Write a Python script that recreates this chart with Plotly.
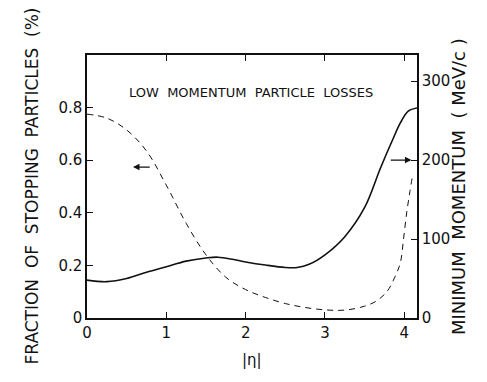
import plotly.graph_objects as go

# Fraction of stopping particles (left axis, dashed)
eta_frac = [0.0, 0.25, 0.5, 0.75, 1.0, 1.25, 1.5, 1.75, 2.0, 2.25, 2.5, 2.75, 3.0, 3.25, 3.5,
            3.65, 3.78, 3.88, 3.95, 3.99, 4.03, 4.07, 4.1]
frac = [0.775, 0.76, 0.715, 0.635, 0.505, 0.36, 0.24, 0.155, 0.108, 0.078, 0.055, 0.040, 0.031,
        0.030, 0.045, 0.065, 0.10, 0.155, 0.21, 0.30, 0.40, 0.48, 0.535]

# Minimum momentum (right axis, solid)
eta_mom = [0.0, 0.25, 0.5, 0.75, 1.0, 1.25, 1.5, 1.65, 1.85, 2.0, 2.25, 2.5, 2.65, 2.8, 3.0,
           3.25, 3.5, 3.7, 3.85, 3.95, 4.05, 4.16]
mom = [48, 46, 50, 58, 65, 72, 76, 77, 74, 71, 67, 64, 64, 68, 80, 103, 140, 190, 225, 247, 262, 266]

x_ticks = [0, 1, 2, 3, 4]
y_left_ticks = [0, 0.2, 0.4, 0.6, 0.8]
y_left_labels = ["0", "0.2", "0.4", "0.6", "0.8"]
y_right_ticks = [0, 100, 200, 300]

FONT = "DejaVu Sans"
INK = "#111111"

fig = go.Figure()
fig.add_trace(go.Scatter(x=eta_frac, y=frac, mode="lines", line_shape="spline",
                         line=dict(color=INK, width=1, dash="6px,5px"), yaxis="y"))
fig.add_trace(go.Scatter(x=eta_mom, y=mom, mode="lines", line_shape="spline",
                         line=dict(color=INK, width=1.6), yaxis="y2"))

axis_common = dict(showline=True, linecolor=INK, linewidth=1.5, ticks="inside", ticklen=6,
                   tickwidth=1.2, tickcolor=INK, showgrid=False, zeroline=False,
                   tickfont=dict(family=FONT, size=15, color=INK))

fig.update_layout(
    width=487, height=382,
    margin=dict(l=87, r=70, t=55, b=64),
    paper_bgcolor="white", plot_bgcolor="white",
    showlegend=False,
    xaxis=dict(range=[0, 4.16], tickvals=x_ticks, mirror="ticks", **axis_common),
    yaxis=dict(range=[0, 1.0], tickvals=y_left_ticks, ticktext=y_left_labels, **axis_common),
    yaxis2=dict(range=[0, 333], tickvals=y_right_ticks, overlaying="y", side="right",
                **axis_common),
    annotations=[
        dict(text="FRACTION  OF  STOPPING  PARTICLES  (%)", xref="paper", yref="paper",
             x=-0.206, y=0.5, textangle=-90, showarrow=False,
             font=dict(family=FONT, size=17, color=INK)),
        dict(text="MINIMUM  MOMENTUM  ( MeV/c )", xref="paper", yref="paper",
             x=1.164, y=0.5, textangle=-90, showarrow=False,
             font=dict(family=FONT, size=18, color=INK)),
        dict(text="|η|", xref="paper", yref="paper", x=0.5, y=-0.2, showarrow=False,
             font=dict(family=FONT, size=15, color=INK)),
        dict(text="LOW  MOMENTUM  PARTICLE  LOSSES", xref="paper", yref="paper",
             x=0.497, y=0.894, showarrow=False,
             font=dict(family=FONT, size=13, color=INK)),
        dict(x=0.58, y=0.574, ax=0.81, ay=0.574, xref="x", yref="y", axref="x", ayref="y",
             showarrow=True, arrowhead=2, arrowsize=1, arrowwidth=1.3, arrowcolor=INK, text=""),
        dict(x=4.09, y=200, ax=3.81, ay=200, xref="x", yref="y2", axref="x", ayref="y2",
             showarrow=True, arrowhead=2, arrowsize=1, arrowwidth=1.3, arrowcolor=INK, text=""),
    ],
)

fig.write_html("out.html")
